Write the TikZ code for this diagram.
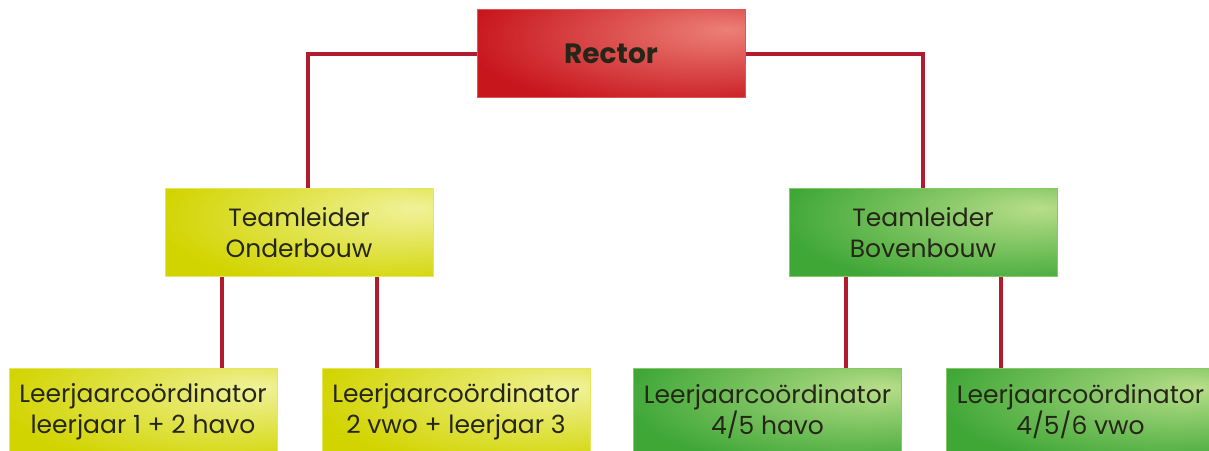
\documentclass[tikz,border=0pt]{standalone}
\usepackage{fontspec}
\setmainfont{Poppins}
\definecolor{lijn}{HTML}{B01C2E}
\definecolor{roodB}{HTML}{C8161D}
\definecolor{roodL}{HTML}{EC8078}
\definecolor{roodD}{HTML}{8A1216}
\definecolor{geelB}{HTML}{D2D400}
\definecolor{geelL}{HTML}{F0F29A}
\definecolor{geelD}{HTML}{ACAC00}
\definecolor{groenB}{HTML}{3EA736}
\definecolor{groenL}{HTML}{B8DE8A}
\definecolor{groenD}{HTML}{228022}
\definecolor{tekst}{HTML}{262618}
\colorlet{licht}{white}
\colorlet{basis}{gray}
\colorlet{donker}{black}
\pgfdeclareradialshading[licht,basis,donker]{glans}{\pgfpoint{22bp}{14bp}}{%
  color(0bp)=(licht); color(40bp)=(basis); color(62bp)=(basis); color(98bp)=(donker)}
\tikzset{
  doos/.style n args={3}{rectangle, minimum width=268pt, minimum height=88pt,
    align=center, text=tekst, font=\fontsize{25}{31}\selectfont, fill=#1,
    draw=#2!60!#1, line width=1pt,
    path picture={
      \colorlet{licht}{#2}\colorlet{basis}{#1}\colorlet{donker}{#3}
      \shade[shading=glans] (path picture bounding box.south west) rectangle (path picture bounding box.north east);
    }},
  rood/.style={doos={roodB}{roodL}{roodD}},
  geel/.style={doos={geelB}{geelL}{geelD}},
  groen/.style={doos={groenB}{groenL}{groenD}},
  tak/.style={draw=lijn, line width=3.5pt}
}
\begin{document}
\begin{tikzpicture}[x=1pt,y=1pt]
  \useasboundingbox (0,0) rectangle (1209,450);
  % knooppunten
  \node[rood, font=\fontsize{28}{30}\selectfont\bfseries] (R) at (611,396) {Rector};
  \node[geel] (TO) at (299,217.5) {Teamleider\\Onderbouw};
  \node[groen] (TB) at (923,217.5) {Teamleider\\Bovenbouw};
  \node[geel] (L1) at (143,38) {Leerjaarcoördinator\\leerjaar 1 + 2 havo};
  \node[geel] (L2) at (456,38) {Leerjaarcoördinator\\2 vwo + leerjaar 3};
  \node[groen] (L3) at (767.5,38) {Leerjaarcoördinator\\4/5 havo};
  \node[groen] (L4) at (1080.5,38) {Leerjaarcoördinator\\4/5/6 vwo};
  % verbindingen
  \coordinate (a) at (308,0);
  \draw[tak] (R.west) -| (TO.north -| a);
  \draw[tak] (R.east) -| (TB.north);
  \foreach \x/\van/\naar in {222/TO/L1, 377/TO/L2, 846/TB/L3, 1001/TB/L4}{
    \coordinate (b) at (\x,0);
    \draw[tak] (\van.south -| b) -- (\naar.north -| b);
  }
\end{tikzpicture}
\end{document}
